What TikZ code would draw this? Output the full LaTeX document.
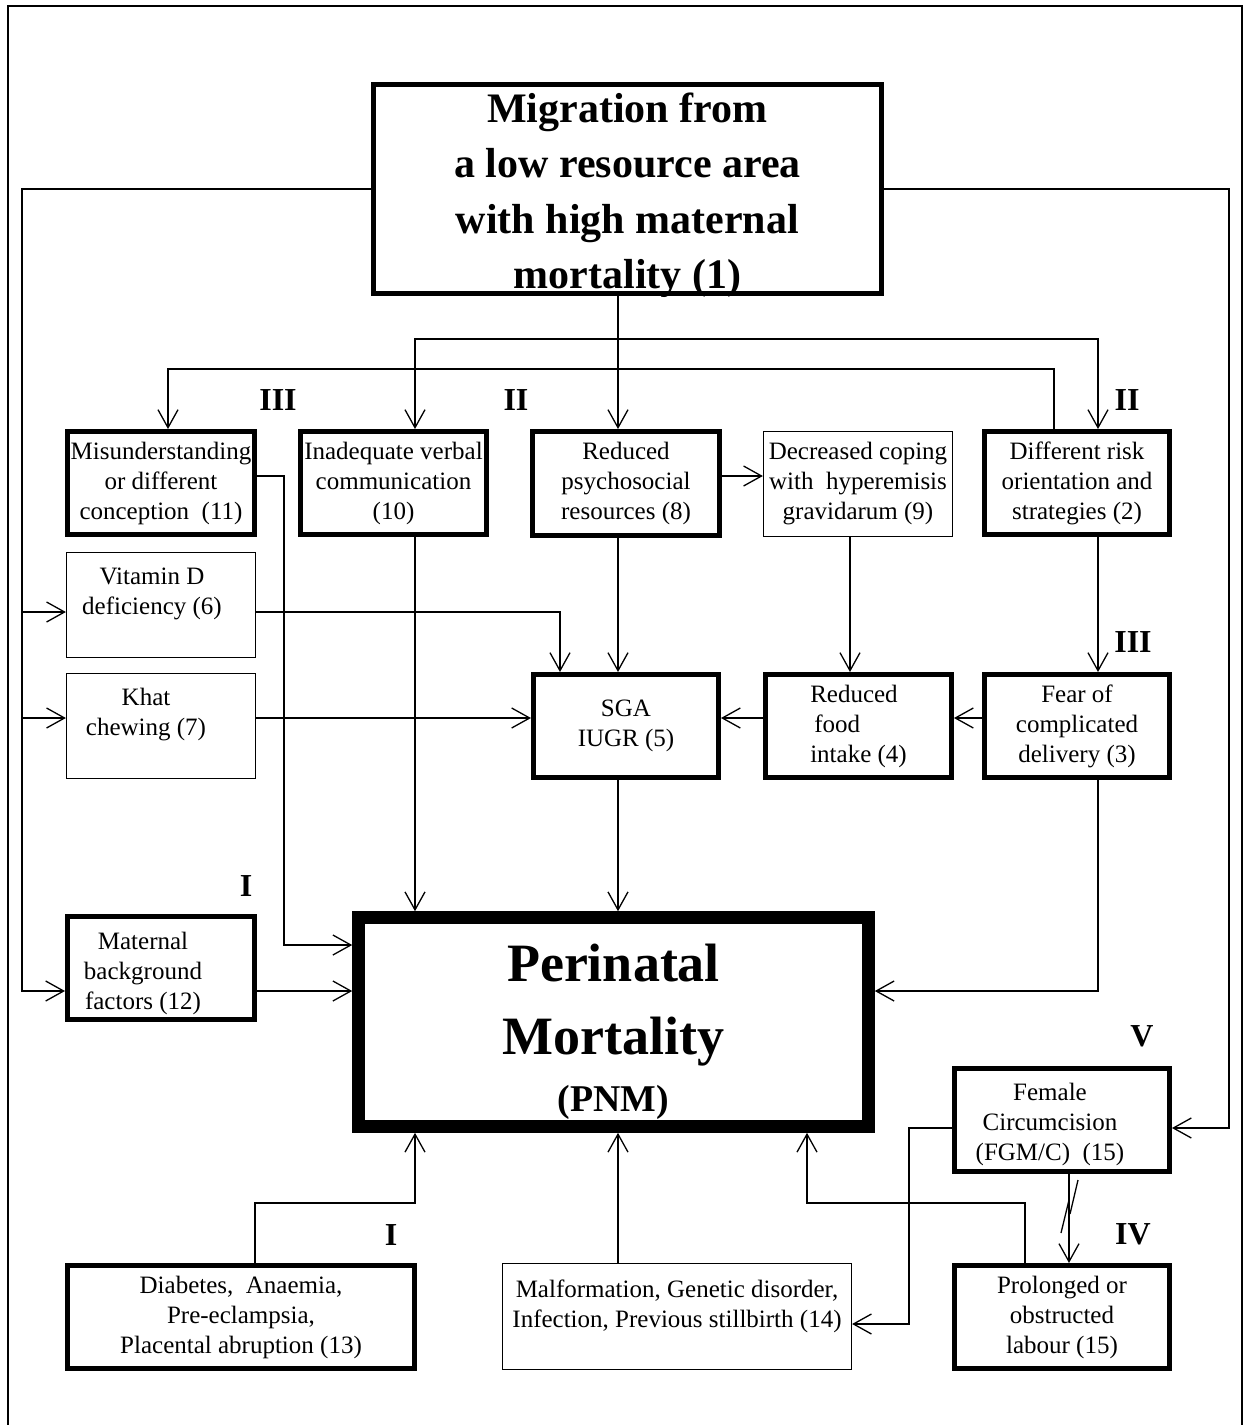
\documentclass[tikz,border=0pt]{standalone}
\usepackage{fontspec}
\setmainfont{Liberation Serif}
\usetikzlibrary{arrows.meta,calc}
\newcommand{\bxfont}{\fontsize{12.5}{15}\selectfont}
\newcommand{\rnfont}{\bfseries\fontsize{16}{16}\selectfont}
\begin{document}
\begin{tikzpicture}[x=0.5pt,y=-0.5pt,
  conn/.style={line width=0.65pt},
  arr/.style={conn,-{Straight Barb[length=9pt,width=10pt]}},
  box/.style={draw, inner sep=0pt, align=center, font=\bxfont},
  thickbox/.style={box, line width=2.5pt},
  thinbox/.style={box, line width=0.6pt},
  sz/.style 2 args={minimum width=#1pt, minimum height=#2pt},
  lbl/.style={align=center, font=\bxfont, inner sep=0pt},
  rn/.style={font=\rnfont, inner sep=0pt}]
\useasboundingbox (0,0) rectangle (1243,1425);
% frame
\draw[line width=1pt] (8,1425) -- (8,6) -- (1242,6) -- (1242,1425);

% boxes
\node[thickbox, sz={254}{104.5}, label={[lbl,yshift=-3pt,font=\bfseries\fontsize{21}{27.75}\selectfont]center:Migration from\\a low resource area\\with high maternal\\mortality (1)}] (n1) at (627.5,189) {};
\node[thickbox, sz={93.5}{51.5}] (n11) at (161,483) {Misunderstanding\\or different\\conception\ \ (11)};
\node[thickbox, sz={93}{51.5}] (n10) at (393.5,483) {Inadequate verbal\\communication\\(10)};
\node[thickbox, sz={93.5}{52}] (n8) at (626,483.5) {Reduced\\psychosocial\\resources (8)};
\node[thinbox, sz={94.5}{52.5}] (n9) at (858,484) {Decreased coping\\with\ \ hyperemisis\\gravidarum (9)};
\node[thickbox, sz={92.5}{51.5}] (n2) at (1077,483) {Different risk\\orientation and\\strategies (2)};
\node[thinbox, sz={94.5}{52.5}, label={[lbl,xshift=-4.5pt,yshift=5.5pt]center:Vitamin D\\deficiency (6)}] (n6) at (161,605) {};
\node[thinbox, sz={94.5}{52.5}, label={[lbl,xshift=-7.5pt,yshift=5.75pt]center:Khat\\chewing (7)}] (n7) at (161,726) {};
\node[thickbox, sz={92.5}{51.5}] (n5) at (626,726) {SGA\\IUGR (5)};
\node[thickbox, sz={93}{51.5}, align=left] (n4) at (858.5,726) {Reduced\\\hspace{2pt}food\\intake (4)};
\node[thickbox, sz={92.5}{51.5}] (n3) at (1077,726) {Fear of\\complicated\\delivery (3)};
\node[thickbox, sz={93.5}{51.5}, label={[lbl,xshift=-9pt,yshift=-2.75pt]center:Maternal\\background\\factors (12)}] (n12) at (161,968) {};
\node[draw, line width=6.3pt, inner sep=0pt, sz={255}{104.5}, label={[lbl,yshift=-5pt,font=\bfseries\fontsize{27}{36.5}\selectfont]center:Perinatal\\Mortality\\[-8pt]\scalebox{0.7}{(PNM)}}] (pnm) at (613.5,1022) {};
\node[thickbox, sz={173.5}{51.5}] (n13) at (241,1317) {Diabetes,\ \ Anaemia,\\Pre-eclampsia,\\Placental abruption (13)};
\node[thinbox, sz={174.5}{53}, label={[lbl,yshift=5pt]center:Malformation, Genetic disorder,\\Infection, Previous stillbirth (14)}] (n14) at (677,1316.5) {};
\node[thickbox, sz={107.5}{51.5}, label={[lbl,xshift=-6pt,yshift=-2pt]center:Female\\Circumcision\\(FGM/C)\ \ (15)}] (n15a) at (1062,1120) {};
\node[thickbox, sz={107.5}{51.5}] (n15b) at (1062,1317) {Prolonged or\\obstructed\\labour (15)};

% roman numeral labels
\node[rn] (r1) at (278,400) {III};
\node[rn] (r2) at (516,400) {II};
\node[rn] (r3) at (1127,400) {II};
\node[rn] (r4) at (1133,642) {III};
\node[rn] (r5) at (246,886) {I};
\node[rn] (r6) at (391,1235) {I};
\node[rn] (r7) at (1142,1036) {V};
\node[rn] (r8) at (1133,1234) {IV};

% lanes
\coordinate (x22) at (22,0);
\coordinate (x168) at (168,0);
\coordinate (x255) at (255,0);
\coordinate (x284) at (284,0);
\coordinate (x415) at (415,0);
\coordinate (x560) at (560,0);
\coordinate (xc) at (618,0);
\coordinate (x807) at (807,0);
\coordinate (x850) at (850,0);
\coordinate (x909) at (909,0);
\coordinate (x1025) at (1025,0);
\coordinate (x1054) at (1054,0);
\coordinate (x1069) at (1069,0);
\coordinate (x1098) at (1098,0);
\coordinate (x1229) at (1229,0);
\coordinate (y339) at (0,339);
\coordinate (y369) at (0,369);
\coordinate (y476) at (0,476);
\coordinate (y612) at (0,612);
\coordinate (y718) at (0,718);
\coordinate (y945) at (0,945);
\coordinate (y991) at (0,991);
\coordinate (y1128) at (0,1128);
\coordinate (y1203) at (0,1203);
\coordinate (y1324) at (0,1324);

% connectors
\draw[arr] (n1.west) -| (x22 |- y991) -- (n12.west |- y991);
\draw[arr] (x22 |- y612) -- (n6.west |- y612);
\draw[arr] (x22 |- y718) -- (n7.west |- y718);
\draw[arr] (n1.east) -| (x1229 |- y1128) -- (n15a.east |- y1128);
\draw[arr] (xc |- n1.south) -- (xc |- n8.north);
\draw[arr] (xc |- y339) -| (x415 |- n10.north);
\draw[arr] (xc |- y339) -| (x1098 |- n2.north);
\draw[arr] (x1054 |- n2.north) |- (x168 |- y369) -- (x168 |- n11.north);
\draw[arr] (n8.east |- y476) -- (n9.west |- y476);
\draw[arr] (xc |- n8.south) -- (xc |- n5.north);
\draw[arr] (x850 |- n9.south) -- (x850 |- n4.north);
\draw[arr] (x1098 |- n2.south) -- (x1098 |- n3.north);
\draw[arr] (n3.west |- y718) -- (n4.east |- y718);
\draw[arr] (n4.west |- y718) -- (n5.east |- y718);
\draw[arr] (n7.east |- y718) -- (n5.west |- y718);
\draw[arr] (n6.east |- y612) -| (x560 |- n5.north);
\draw[arr] (n11.east |- y476) -| (x284 |- y945) -- (pnm.west |- y945);
\draw[arr] (x415 |- n10.south) -- (x415 |- pnm.north);
\draw[arr] (xc |- n5.south) -- (xc |- pnm.north);
\draw[arr] (n12.east |- y991) -- (pnm.west |- y991);
\draw[arr] (x1098 |- n3.south) |- (pnm.east |- y991);
\draw[arr] (x255 |- n13.north) |- (x415 |- y1203) -- (x415 |- pnm.south);
\draw[arr] (xc |- n14.north) -- (xc |- pnm.south);
\draw[arr] (x1025 |- n15b.north) |- (x807 |- y1203) -- (x807 |- pnm.south);
\draw[arr] (n15a.west |- y1128) -| (x909 |- y1324) -- (n14.east |- y1324);
\draw[arr] (x1069 |- n15a.south) -- (x1069 |- n15b.north);
\draw[conn] (1078,1180) -- (1070,1214) (1069,1200) -- (1061,1233);
\end{tikzpicture}
\end{document}
